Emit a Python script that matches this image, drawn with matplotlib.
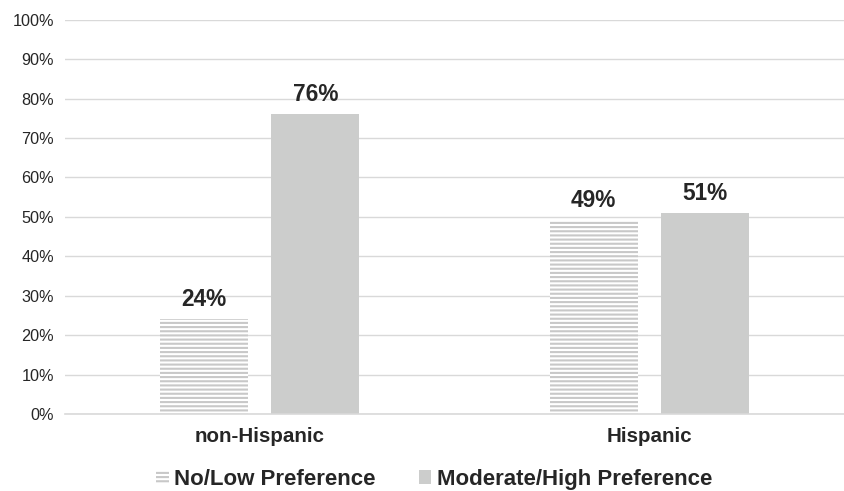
import numpy as np
import matplotlib
matplotlib.use("Agg")
import matplotlib.pyplot as plt
from matplotlib.ticker import PercentFormatter

# ------------------------------
# Data
# ------------------------------
groups = ["non-Hispanic", "Hispanic"]
series_names = ["No/Low Preference", "Moderate/High Preference"]
no_low = [24, 49]
mod_high = [76, 51]

plt.rcParams["font.family"] = ["Liberation Sans", "DejaVu Sans"]
plt.rcParams["hatch.linewidth"] = 1.5

TEXT = "#262626"
GRID = "#D9D9D9"
HATCH_COL = "#C8C8C8"
SOLID_COL = "#CCCDCC"


def main():
    fig = plt.figure(figsize=(8.45, 4.91), dpi=100)
    ax = fig.add_axes([0.0769, 0.1568, 0.922, 0.8032])

    x = np.arange(len(groups))
    width = 0.226
    offset = 0.143

    b1 = ax.bar(x - offset, no_low, width, color="white", edgecolor=HATCH_COL,
                hatch="----", linewidth=0, label=series_names[0], zorder=2)
    b2 = ax.bar(x + offset, mod_high, width, color=SOLID_COL, linewidth=0,
                label=series_names[1], zorder=2)

    # value labels above bars
    for bars, vals in [(b1, no_low), (b2, mod_high)]:
        for rect, v in zip(bars, vals):
            ax.annotate(f"{v}%", (rect.get_x() + rect.get_width() / 2, v),
                        xytext=(0, 6), textcoords="offset points",
                        ha="center", va="bottom", fontsize=16.3,
                        fontweight="bold", color=TEXT)

    ax.set_xlim(-0.5, 1.5)
    ax.set_ylim(0, 100)
    ax.set_yticks(np.arange(0, 101, 10))
    ax.yaxis.set_major_formatter(PercentFormatter(decimals=0))
    ax.set_xticks(x)
    ax.set_xticklabels(groups, fontsize=14.8, fontweight="bold", color=TEXT)

    ax.grid(axis="y", color=GRID, linewidth=1.0, zorder=0)
    ax.set_axisbelow(True)
    for s in ["top", "right", "left"]:
        ax.spines[s].set_visible(False)
    ax.spines["bottom"].set_color(GRID)
    ax.spines["bottom"].set_linewidth(1.2)

    ax.tick_params(axis="y", length=0, labelsize=11.7, labelcolor=TEXT, pad=8)
    ax.tick_params(axis="x", length=0, pad=9)

    leg = fig.legend(handles=[b1, b2], labels=series_names, loc="center",
                     bbox_to_anchor=(0.514, 0.024), ncol=2, frameon=False,
                     prop={"size": 16, "weight": "bold"},
                     handlelength=0.55, handleheight=0.55, handletextpad=0.25,
                     columnspacing=1.95)
    for t in leg.get_texts():
        t.set_color(TEXT)

    fig.savefig("out.png", dpi=100)


if __name__ == "__main__":
    main()
